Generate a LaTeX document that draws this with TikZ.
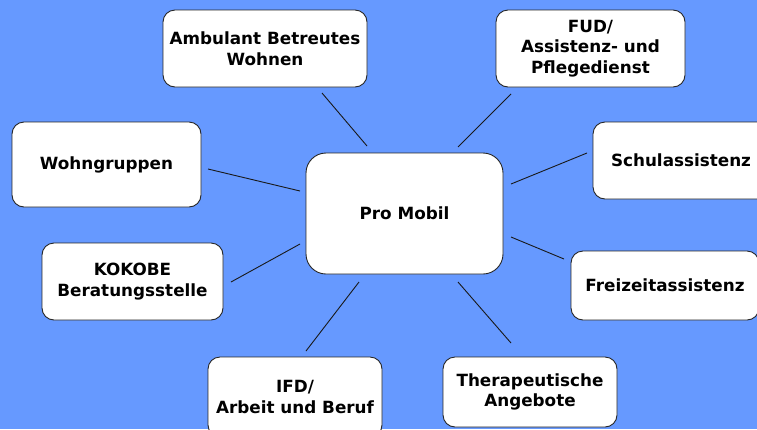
\documentclass[tikz,border=0pt]{standalone}
\usepackage{fontspec}
\setmainfont{DejaVu Sans}
\definecolor{bgblue}{HTML}{6699FF}
\begin{document}
\begin{tikzpicture}[x=1pt,y=-1pt,
  box/.style={draw=black!85,line width=0.9pt,fill=white,rounded corners=12pt,
    align=center,inner sep=0pt,font=\fontsize{16.8}{20.8}\selectfont\bfseries},
  link/.style={draw=black!90,line width=0.9pt}]
\clip (0,0) rectangle (757,429);
\fill[bgblue] (0,0) rectangle (757,429);
\node[box,rounded corners=20pt,minimum width=197pt,minimum height=121pt] (pro) at (404.5,213.5) {Pro Mobil};
\node[box,minimum width=204pt,minimum height=77pt] (amb) at (265,48.5) {Ambulant Betreutes\\Wohnen};
\node[box,minimum width=189pt,minimum height=77pt] (fud) at (590.5,48.5) {FUD/\\Assistenz- und\\ Pflegedienst};
\node[box,minimum width=189pt,minimum height=85pt] (wg) at (106.5,164.5) {Wohngruppen};
\node[box,minimum width=176pt,minimum height=77pt] (schul) at (681,160.5) {Schulassistenz};
\node[box,minimum width=181pt,minimum height=77pt] (kok) at (132.5,281.5) {KOKOBE\\Beratungsstelle};
\node[box,minimum width=188pt,minimum height=69pt] (frei) at (665,285.5) {Freizeitassistenz};
\node[box,minimum width=174pt,minimum height=80pt] (ifd) at (295,397) {IFD/\\Arbeit und Beruf};
\node[box,minimum width=174pt,minimum height=70pt] (ther) at (530,392) {Therapeutische\\Angebote};
% connector end points
\coordinate (amb-a) at (322,93);  \coordinate (amb-b) at (367,146);
\coordinate (wg-a) at (208,169);  \coordinate (wg-b) at (300,191);
\coordinate (fud-a) at (511,94);  \coordinate (fud-b) at (458,147);
\coordinate (schul-a) at (587,153); \coordinate (schul-b) at (511,184);
\coordinate (kok-a) at (231,282); \coordinate (kok-b) at (300,244);
\coordinate (ifd-a) at (306,351); \coordinate (ifd-b) at (359,282);
\coordinate (frei-a) at (564,259); \coordinate (frei-b) at (511,237);
\coordinate (ther-a) at (511,343); \coordinate (ther-b) at (458,282);
\foreach \n in {amb,wg,fud,schul,kok,ifd,frei,ther}
  \draw[link] (\n-a) -- (\n-b);
\end{tikzpicture}
\end{document}
